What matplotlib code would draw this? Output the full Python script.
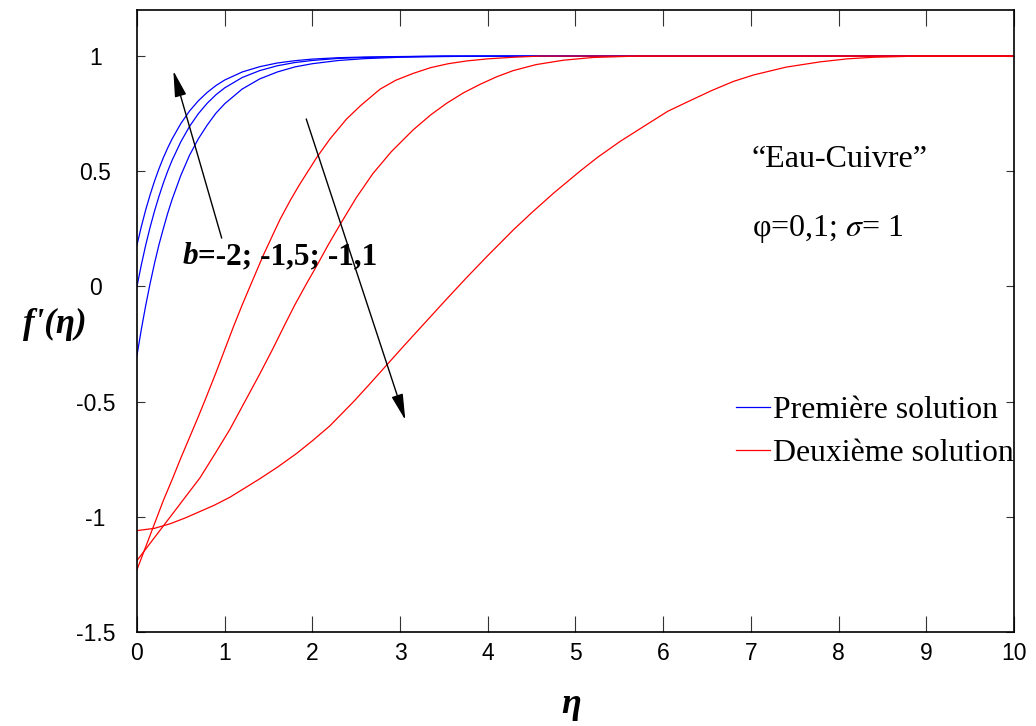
import matplotlib.pyplot as plt

# first solution (blue), b = -2, -1.5, -1.1
eta_p = [0, 0.05, 0.1, 0.15, 0.2, 0.25, 0.3, 0.35, 0.4, 0.5, 0.6, 0.7, 0.8, 0.9, 1.0,
         1.2, 1.4, 1.6, 1.8, 2.0, 2.3, 2.6, 3.0, 3.5, 4.0, 10]
fp_p1 = [0.18, 0.26, 0.333, 0.398, 0.457, 0.51, 0.558, 0.601, 0.64, 0.707, 0.762, 0.806,
         0.842, 0.872, 0.896, 0.931, 0.954, 0.97, 0.98, 0.987, 0.993, 0.996, 0.998, 1.0, 1.0, 1.0]
fp_p2 = [0.0, 0.094, 0.18, 0.257, 0.327, 0.39, 0.448, 0.5, 0.547, 0.628, 0.695, 0.75,
         0.795, 0.832, 0.862, 0.907, 0.937, 0.958, 0.972, 0.981, 0.99, 0.994, 0.997, 1.0, 1.0, 1.0]
fp_p3 = [-0.30, -0.186, -0.082, 0.013, 0.10, 0.18, 0.25, 0.317, 0.377, 0.482, 0.57, 0.641,
         0.70, 0.752, 0.793, 0.857, 0.901, 0.931, 0.953, 0.967, 0.981, 0.989, 0.995, 0.998, 1.0, 1.0]

# second solution (red)
eta_d1 = [0, 0.1, 0.2, 0.3, 0.41, 0.5, 0.6, 0.7, 0.78, 0.9, 1.0, 1.1, 1.2, 1.3, 1.44, 1.55,
          1.63, 1.75, 1.85, 1.95, 2.05, 2.2, 2.39, 2.55, 2.77, 2.95, 3.15, 3.35, 3.55, 3.76,
          4.0, 4.29, 4.6, 10]
fp_d1 = [-1.23, -1.13, -1.03, -0.93, -0.83, -0.745, -0.655, -0.565, -0.49, -0.375, -0.275,
         -0.175, -0.08, 0.01, 0.135, 0.225, 0.29, 0.375, 0.44, 0.50, 0.56, 0.64, 0.727, 0.785,
         0.856, 0.895, 0.925, 0.95, 0.967, 0.979, 0.988, 0.995, 1.0, 1.0]
eta_d2 = [0, 0.15, 0.3, 0.5, 0.72, 0.9, 1.06, 1.23, 1.4, 1.55, 1.68, 1.80, 1.93, 2.05, 2.18,
          2.31, 2.5, 2.69, 2.9, 3.15, 3.35, 3.53, 3.72, 3.91, 4.1, 4.29, 4.55, 4.86, 5.2, 5.7, 10]
fp_d2 = [-1.19, -1.115, -1.04, -0.94, -0.83, -0.72, -0.62, -0.50, -0.38, -0.27, -0.17, -0.08,
         0.01, 0.09, 0.18, 0.265, 0.385, 0.49, 0.585, 0.68, 0.745, 0.795, 0.84, 0.877, 0.91,
         0.937, 0.963, 0.982, 0.994, 1.0, 1.0]
eta_d3 = [0, 0.2, 0.38, 0.55, 0.7, 0.88, 1.06, 1.23, 1.4, 1.6, 1.82, 2.0, 2.2, 2.47, 2.65,
          2.85, 3.05, 3.23, 3.53, 3.75, 3.99, 4.29, 4.5, 4.75, 5.05, 5.25, 5.51, 5.8, 6.05,
          6.27, 6.55, 6.8, 7.03, 7.4, 7.79, 8.1, 8.4, 8.9, 10]
fp_d3 = [-1.06, -1.05, -1.03, -1.005, -0.98, -0.95, -0.915, -0.875, -0.835, -0.785, -0.725,
         -0.67, -0.605, -0.50, -0.425, -0.34, -0.255, -0.18, -0.055, 0.035, 0.13, 0.245, 0.32,
         0.405, 0.50, 0.56, 0.63, 0.70, 0.76, 0.80, 0.85, 0.89, 0.918, 0.952, 0.975, 0.988,
         0.995, 1.0, 1.0]

xticks = [0, 1, 2, 3, 4, 5, 6, 7, 8, 9, 10]
yticks = [-1.5, -1, -0.5, 0, 0.5, 1]
ytick_labels = ['-1.5', '-1', '-0.5', '0', '0.5', '1']

plt.rcParams['mathtext.fontset'] = 'stix'
serif = 'Liberation Serif'
sans = 'Liberation Sans'

fig = plt.figure(figsize=(10.36, 7.26), dpi=100)
ax = fig.add_axes([0.1322, 0.1295, 0.8466, 0.8567])

lw = 0.9
blue = '#0000ff'
red = '#ff0000'
ax.plot(eta_p, fp_p1, color=blue, lw=lw, label='Première solution')
ax.plot(eta_p, fp_p2, color=blue, lw=lw)
ax.plot(eta_p, fp_p3, color=blue, lw=lw)
ax.plot(eta_d1, fp_d1, color=red, lw=lw, label='Deuxième solution')
ax.plot(eta_d2, fp_d2, color=red, lw=lw)
ax.plot(eta_d3, fp_d3, color=red, lw=lw)

ax.set_xlim(0, 10)
ax.set_ylim(-1.5, 1.2)
ax.set_xticks(xticks)
ax.set_yticks(yticks)
ax.set_yticklabels(ytick_labels)
for lab in ax.get_xticklabels() + ax.get_yticklabels():
    lab.set_fontfamily(sans)
    lab.set_fontsize(16.5)
for lab in ax.get_yticklabels():
    lab.set_horizontalalignment('center')

ax.tick_params(axis='x', direction='in', length=11.5, width=0.8, color='#333333',
               top=True, pad=7)
ax.tick_params(axis='y', direction='in', length=6, width=0.8, color='#333333',
               right=True, pad=30)
for sp in ax.spines.values():
    sp.set_linewidth(1.2)

# axis labels
ax.text(-0.094, 0.495, "f'(η)", transform=ax.transAxes, family=serif,
        fontsize=25, fontweight='bold', style='italic', ha='center', va='center')
fig.text(0.551, 0.03, 'η', family=serif, fontsize=26, fontweight='bold',
         style='italic', ha='center', va='center')

# annotations
ax.text(7.01, 0.55, '“Eau-Cuivre”', family=serif, fontsize=23, va='center')
ax.text(7.01, 0.25, 'φ=0,1; $\\sigma$= 1', family=serif, fontsize=23, va='center')

t_b = ax.text(0.52, 0.13, 'b', family=serif, fontsize=22.5, fontweight='bold',
              style='italic', va='center')
ax.annotate('=-2; -1,5; -1,1', xy=(1, 0), xycoords=t_b, family=serif,
            fontsize=22.5, fontweight='bold', va='bottom', ha='left')

arrow = dict(arrowstyle='-|>,head_length=0.8,head_width=0.18', lw=1,
             color='black', mutation_scale=20, shrinkA=0, shrinkB=0)
ax.annotate('', xy=(0.415, 0.936), xytext=(0.966, 0.21), arrowprops=arrow)
ax.annotate('', xy=(3.06, -0.58), xytext=(1.93, 0.727), arrowprops=arrow)

ax.legend(loc='upper left', bbox_to_anchor=(0.683, 0.38), frameon=False,
          prop={'family': serif, 'size': 22.9}, handlelength=1.07,
          handletextpad=0.1, borderpad=0, borderaxespad=0, labelspacing=0.45)

fig.savefig('out.png', dpi=100)
